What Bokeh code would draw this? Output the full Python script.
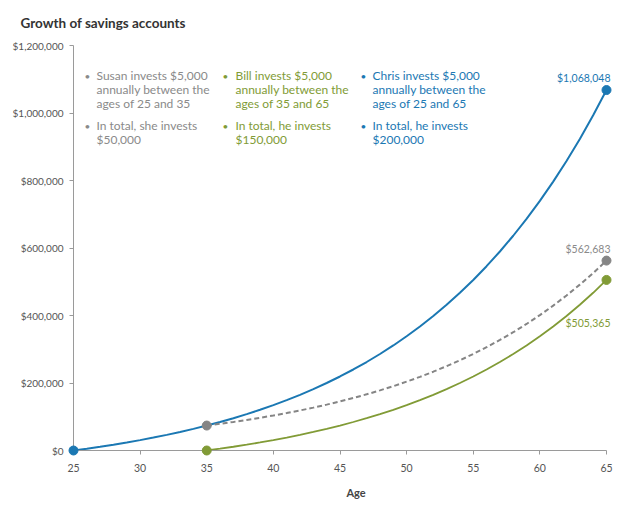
from bokeh.plotting import figure
from bokeh.models import Range1d, FixedTicker, NumeralTickFormatter, Label
from bokeh.embed import file_html
from bokeh.resources import INLINE

# ---------------- data ----------------
ages_chris = list(range(25, 66))
chris = [0, 5350, 11075, 17200, 23754, 30766, 38270, 46299, 54890, 64082,
         73918, 84442, 95704, 107753, 120645, 134441, 149201, 164995, 181895,
         199978, 219326, 240029, 262181, 285883, 311245, 338383, 367419,
         398489, 431733, 467304, 505365, 546091, 589667, 636294, 686184,
         739567, 796687, 857805, 923201, 993169, 1068048]

ages_later = list(range(35, 66))
susan = [73918, 79092, 84629, 90553, 96891, 103674, 110931, 118696, 127005,
         135895, 145408, 155586, 166477, 178130, 190599, 203941, 218217,
         233492, 249837, 267325, 286038, 306061, 327485, 350409, 374937,
         401183, 429265, 459314, 491466, 525868, 562683]
bill = [0, 5350, 11075, 17200, 23754, 30766, 38270, 46299, 54890, 64082,
        73918, 84442, 95704, 107753, 120645, 134441, 149201, 164995, 181895,
        199978, 219326, 240029, 262181, 285883, 311245, 338383, 367419,
        398489, 431733, 467304, 505365]

x_ticks = [25, 30, 35, 40, 45, 50, 55, 60, 65]
y_ticks = [0, 200000, 400000, 600000, 800000, 1000000, 1200000]

end_labels = ["$1,068,048", "$562,683", "$505,365"]

susan_text = [["Susan invests $5,000", "annually between the", "ages of 25 and 35"],
              ["In total, she invests", "$50,000"]]
bill_text = [["Bill invests $5,000", "annually between the", "ages of 35 and 65"],
             ["In total, he invests", "$150,000"]]
chris_text = [["Chris invests $5,000", "annually between the", "ages of 25 and 65"],
              ["In total, he invests", "$200,000"]]

title_text = "Growth of savings accounts"

BLUE = "#1b78b3"
GRAY = "#8a8a8a"
GREEN = "#819b36"
FONT = "Lato"

# ---------------- figure ----------------
W, H = 640, 508
LEFT, RIGHT, TOP, BOTTOM = 73, 2, 45, 58
AX_RIGHT = 606                      # picture px where age 65 sits
px_per_year = (AX_RIGHT - LEFT) / 40
x_end = 65 + (W - RIGHT - AX_RIGHT) / px_per_year
frame_h = H - TOP - BOTTOM

p = figure(width=W, height=H, output_backend="svg", toolbar_location=None,
           x_range=Range1d(25, x_end), y_range=Range1d(0, 1200000),
           min_border_left=LEFT, min_border_right=RIGHT,
           min_border_top=TOP, min_border_bottom=BOTTOM)
p.outline_line_color = None
p.grid.visible = False
p.background_fill_color = "white"

p.title.text = title_text
p.title.align = "left"
p.title.offset = 20 - LEFT
p.title.standoff = 26
p.title.vertical_align = "top"
p.title.text_font = FONT
p.title.text_font_style = "bold"
p.title.text_font_size = "13.5px"
p.title.text_color = "#333333"

# picture px -> data helpers
def vy(py):
    return (TOP + frame_h - py) * 1200000 / frame_h

def vx(px):
    return 25 + (px - LEFT) / px_per_year

for ax in (p.xaxis, p.yaxis):
    ax.axis_line_color = "#9a9a9a"
    ax.major_tick_line_color = "#9a9a9a"
    ax.major_tick_out = 4
    ax.major_tick_in = 0
    ax.minor_tick_line_color = None
    ax.major_label_text_font = FONT
    ax.major_label_text_color = "#555555"

p.xaxis.bounds = (25, 65)
p.xaxis.major_label_text_font_size = "10.5px"
p.yaxis.major_label_text_font_size = "10px"
p.xaxis.ticker = FixedTicker(ticks=x_ticks)
p.yaxis.ticker = FixedTicker(ticks=y_ticks)
p.yaxis.formatter = NumeralTickFormatter(format="$0,0")
p.xaxis.major_label_standoff = 9
p.yaxis.major_label_standoff = 6
p.xaxis.axis_label = "Age"
p.xaxis.axis_label_text_font = FONT
p.xaxis.axis_label_text_font_style = "bold"
p.xaxis.axis_label_text_font_size = "11px"
p.xaxis.axis_label_text_color = "#444444"
p.xaxis.axis_label_standoff = 11

# lines
p.line(ages_chris, chris, line_color=BLUE, line_width=2)
p.line(ages_later, susan, line_color="#858585", line_width=2, line_dash="5 3")
p.line(ages_later, bill, line_color=GREEN, line_width=1.8)

# dots
for xs, ys, col in [([ages_chris[0], ages_chris[-1]], [chris[0], chris[-1]], BLUE),
                    ([ages_later[0], ages_later[-1]], [susan[0], susan[-1]], "#858585"),
                    ([ages_later[0], ages_later[-1]], [bill[0], bill[-1]], GREEN)]:
    r = p.scatter(xs, ys, size=9, fill_color=col, line_color=col)
    r.level = "overlay"

def add_label(**kw):
    lab = Label(**kw)
    lab.level = "overlay"
    p.add_layout(lab)

# end labels
for txt, val, col, dy in [(end_labels[0], chris[-1], BLUE, 12),
                          (end_labels[1], susan[-1], GRAY, 12),
                          (end_labels[2], bill[-1], GREEN, -43)]:
    add_label(x=65, y=val, x_offset=4, y_offset=dy, text=txt,
              text_align="right", text_baseline="middle",
              text_font=FONT, text_font_size="10.5px", text_color=col)

# annotation blocks
line_tops = [[75, 89, 103], [125, 139]]
for block, bullet_px, text_px, col in [(susan_text, 87, 96, GRAY),
                                       (bill_text, 225, 235, GREEN),
                                       (chris_text, 363, 372, BLUE)]:
    for para, ys in zip(block, line_tops):
        add_label(x=vx(bullet_px), y=vy(ys[0]), text="•",
                  text_align="center", text_baseline="middle",
                  text_font=FONT, text_font_size="10px", text_color=col)
        for line, py in zip(para, ys):
            add_label(x=vx(text_px), y=vy(py), text=line,
                      text_align="left", text_baseline="middle",
                      text_font=FONT, text_font_size="12px", text_color=col)

open("out.html", "w").write(file_html(p, INLINE))
